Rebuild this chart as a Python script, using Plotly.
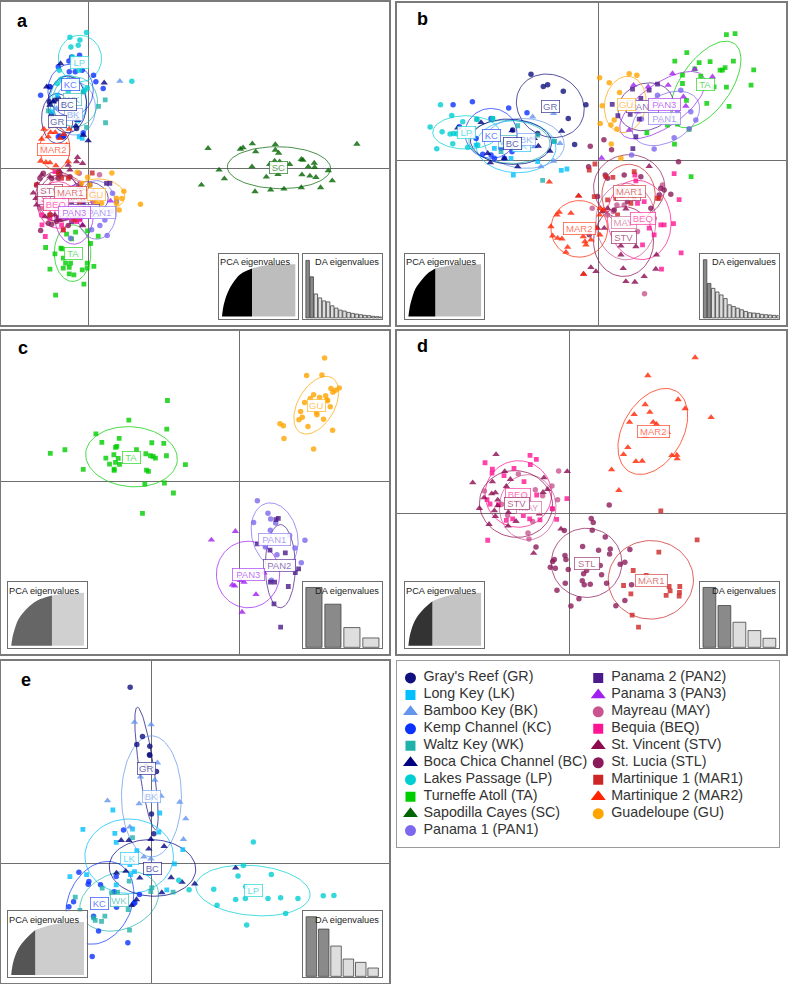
import numpy as np
import plotly.graph_objects as go

# Points at 3x scale, one list per population and panel.
A_LP = [(210,106),(260,92),(240,114),(213,135),(235,130),(218,165),(238,205),(178,205),(172,245),(205,268),(396,238),(262,258),(255,265),(183,232)]
A_KC = [(207,177),(239,160),(215,165),(122,280),(148,255),(208,210),(226,210),(247,205),(281,220),(288,240),(310,260),(175,195),(180,403),(175,405),(192,402),(250,393)]
A_WK = [(316,294),(317,363),(296,314),(260,377),(145,327),(250,270)]
A_BK = [(360,238),(235,355),(220,330),(205,260),(170,320),(250,400)]
A_BC = [(182,185),(313,243),(140,255),(160,300),(150,310),(265,417),(228,372),(250,400),(233,355)]
A_GR = [(150,255),(175,290),(190,405),(165,295),(155,340),(230,380),(148,300)]
A_LK = [(247,410),(238,405),(205,300),(188,310),(172,280),(155,330),(233,356),(250,270)]
A_MAR2 = [(132,382),(152,392),(166,392),(208,382),(125,412),(190,398),(145,405),(130,435),(122,478),(138,482),(150,483),(168,492),(205,480),(200,430),(180,410)]
A_STV = [(233,467),(230,480),(100,574),(112,548),(108,590),(110,610),(135,645),(165,640),(150,525),(125,520),(180,510),(205,490),(210,505),(248,485),(248,672),(180,655),(165,600)]
A_STL = [(122,687),(110,550),(120,530),(145,665),(155,668),(170,660),(205,672),(177,510),(180,520),(155,530),(130,515),(175,530),(210,525),(240,555),(175,650),(150,640)]
A_MAR1 = [(277,514),(175,515),(185,530),(240,600),(225,655),(250,590),(205,530),(255,570),(150,640),(135,620),(190,685),(110,550)]
A_MAY = [(299,519),(238,515),(280,600),(185,650),(215,655),(120,620),(150,600),(175,615),(135,580)]
A_BEQ = [(126,670),(136,705),(220,655),(185,670),(190,685),(230,660),(150,650),(125,640),(175,650),(240,655),(120,600),(165,510)]
A_PAN3 = [(248,670),(332,598),(190,590),(290,590),(245,590),(200,650),(212,620),(280,570),(240,545)]
A_PAN2 = [(330,545),(320,545),(270,550),(250,600),(215,600),(240,650),(215,660)]
A_PAN1 = [(338,575),(350,600),(335,630),(315,655),(322,702),(300,672),(275,685),(212,710),(250,610),(260,580)]
A_GU = [(336,514),(372,569),(366,591),(350,590),(350,606),(422,608),(358,625),(305,605),(263,527),(245,545),(232,512),(290,605),(270,550)]
A_TA = [(137,738),(183,740),(186,742),(165,757),(200,698),(227,692),(263,688),(272,726),(215,712),(190,770),(150,803),(197,785),(212,785),(208,798),(208,817),(222,820),(247,805),(262,785),(262,800),(282,795),(252,848),(167,881),(295,704),(190,800)]
A_SC = [(625,440),(722,442),(730,438),(758,426),(768,450),(827,428),(827,445),(837,454),(757,495),(658,505),(674,531),(605,550),(810,488),(825,478),(840,480),(870,488),(835,518),(800,526),(766,570),(813,565),(853,562),(905,558),(963,558),(998,537),(986,507),(949,527),(931,523),(907,519),(926,495),(945,497),(944,484),(905,473),(910,475),(1072,427)]

B_GR = [(410,217),(447,254),(460,249),(507,268),(575,309),(522,350),(541,428),(430,395),(355,385)]
B_KC = [(176,309),(234,300),(343,319),(398,333),(195,375),(290,350),(265,458),(290,460),(300,470),(330,470),(353,450),(320,440),(245,410)]
B_LP = [(138,309),(172,341),(107,376),(143,390),(167,397),(177,395),(187,396),(127,441),(175,426),(220,437),(205,360),(248,353),(295,350),(250,430)]
B_WK = [(247,353),(295,350),(370,372),(445,536),(320,450),(480,418),(430,400),(360,440)]
B_BK = [(415,345),(478,335),(497,425),(440,495),(478,478),(378,425),(410,410),(420,435)]
B_LK = [(501,506),(518,502),(357,520),(430,480),(245,430),(300,440),(280,410),(350,470),(480,420)]
B_BC = [(260,362),(190,378),(353,387),(502,388),(467,448),(432,433),(370,495),(288,483),(330,470),(280,455),(420,410)]
B_GU = [(705,216),(728,220),(616,228),(645,243),(676,272),(624,312),(660,355),(650,370),(668,382),(618,365),(680,470),(651,427)]
B_PAN2 = [(715,262),(790,247),(765,265),(654,308),(671,342),(708,338),(735,352),(725,405),(716,441),(790,310),(740,290)]
B_PAN3 = [(718,250),(762,255),(822,250),(835,215),(902,202),(955,225),(868,285),(875,313),(705,385),(800,360),(622,469),(730,330)]
B_PAN1 = [(790,280),(860,265),(840,408),(905,355),(885,381),(780,442),(712,460),(742,352),(850,330),(890,330)]
B_TA = [(997,98),(1023,95),(878,152),(842,178),(915,182),(948,179),(1018,178),(1079,204),(993,197),(985,205),(978,205),(1071,250),(997,256),(902,201),(920,223),(865,220),(865,245),(960,255),(877,296),(938,305),(1005,314),(820,370),(885,383),(758,393),(841,427),(891,525),(850,367)]
B_MAR1 = [(602,487),(585,505),(656,527),(635,525),(720,510),(665,590),(720,590),(790,590),(795,590),(670,640),(710,605),(600,585),(640,595)]
B_STL = [(629,414),(588,434),(652,444),(583,495),(853,480),(633,520),(640,530),(690,520),(740,525),(800,560),(830,578),(795,580),(810,565),(610,585),(660,625),(770,620),(585,700),(700,600)]
B_MAY = [(594,620),(751,877),(657,630),(690,610),(640,640),(730,690),(780,650),(805,550),(668,610)]
B_BEQ = [(840,516),(855,594),(838,666),(861,754),(802,803),(722,520),(725,538),(750,600),(730,605),(765,680),(745,730),(780,700),(800,670),(810,670)]
B_STV = [(765,494),(553,583),(568,818),(590,798),(605,810),(695,840),(722,842),(750,825),(785,803),(687,801),(680,733),(725,735),(787,760),(680,760),(695,622),(640,620),(625,630),(610,680),(630,680)]
B_MAR2 = [(465,541),(553,583),(530,635),(488,640),(495,632),(470,675),(475,703),(490,710),(503,712),(520,737),(515,752),(567,705),(572,720),(590,715),(575,730),(617,700),(605,680),(618,620),(628,625),(616,640),(568,818)]

C_TA = [(503,214),(387,273),(151,373),(195,362),(288,314),(306,340),(358,328),(347,355),(351,352),(501,300),(456,341),(492,343),(410,362),(342,377),(318,387),(355,388),(438,374),(452,380),(460,382),(467,387),(500,380),(557,407),(250,421),(329,405),(347,400),(359,406),(343,420),(343,424),(440,423),(446,427),(435,465),(494,462),(521,492),(428,553)]
C_GU = [(975,86),(921,139),(967,137),(1019,176),(1008,183),(994,178),(1000,189),(942,197),(960,205),(978,200),(932,208),(982,212),(984,215),(915,220),(992,233),(903,247),(951,250),(952,257),(908,264),(898,272),(972,270),(841,284),(851,290),(925,292),(999,303),(853,328),(942,360)]
C_PAN1 = [(773,515),(805,553),(813,570),(762,581),(828,582),(812,604),(870,620),(916,634),(797,654),(886,657),(832,678),(905,702),(815,754)]
C_PAN2 = [(836,568),(829,572),(773,645),(811,664),(857,672),(897,720),(887,731),(812,760),(825,760),(866,773),(823,825),(843,895)]
C_PAN3 = [(707,607),(635,633),(793,732),(722,755),(733,760),(698,768),(705,771),(769,797),(727,850)]

D_MAR2 = [(903,85),(761,139),(852,211),(753,226),(873,238),(720,256),(767,249),(951,265),(706,279),(777,279),(787,285),(820,310),(754,322),(701,355),(688,376),(848,378),(833,379),(849,389),(725,397),(744,396),(652,422),(674,484)]
D_BEQ = [(407,379),(426,391),(272,401),(408,407),(294,420),(293,432),(359,418),(389,458),(427,498),(518,509),(278,512),(287,525),(312,527),(474,539),(487,571),(355,570),(336,574),(406,570),(437,573),(387,560),(280,634),(329,440)]
D_MAY = [(493,426),(372,435),(473,471),(270,486),(423,482),(490,512),(322,526),(401,612),(404,630),(415,578),(390,500),(475,540),(340,560),(445,500)]
D_STV = [(305,376),(235,461),(331,427),(294,458),(348,451),(449,446),(336,472),(292,494),(303,491),(269,506),(310,513),(255,538),(300,545),(342,550),(303,562),(284,586),(341,591),(365,577),(435,555),(460,481),(446,490),(500,600),(418,673),(519,427),(310,530)]
D_STL = [(645,528),(591,569),(597,581),(510,605),(594,604),(633,624),(425,654),(565,653),(613,664),(648,660),(646,675),(512,680),(475,698),(480,692),(515,692),(468,715),(483,718),(522,722),(577,725),(618,710),(568,735),(622,738),(564,756),(570,768),(588,766),(637,763),(513,763),(488,784),(554,810),(530,832),(692,700),(707,662),(678,706),(712,768),(692,815),(665,831)]
D_MAR1 = [(800,546),(909,633),(794,670),(717,725),(756,740),(688,770),(825,773),(857,773),(828,786),(856,791),(816,800),(855,802),(710,795),(714,859),(733,895)]

E_GR = [(391,92),(428,240),(411,264),(450,269),(449,295),(470,345),(455,473),(462,532),(450,296),(440,330)]
E_BK = [(404,197),(454,204),(473,319),(422,361),(465,371),(323,433),(418,442),(484,419),(540,437),(558,487),(551,549),(390,512),(432,602),(453,608)]
E_LK = [(339,461),(249,519),(345,531),(398,518),(480,470),(477,527),(349,558),(411,583),(549,580),(524,623),(210,661),(260,655),(404,646),(392,655),(349,686),(501,701),(448,652),(390,625)]
E_KC = [(371,521),(237,648),(265,684),(267,676),(302,686),(349,661),(343,707),(419,715),(221,737),(207,752),(350,753),(402,742),(281,780),(296,825),(384,860),(277,901),(204,775),(252,782),(167,878),(405,740)]
E_WK = [(398,544),(307,696),(388,675),(456,694),(453,706),(520,708),(353,708),(226,723),(240,763),(385,760),(315,780),(281,785),(286,793),(305,796),(389,822),(335,710)]
E_BC = [(364,552),(387,552),(453,549),(493,570),(447,578),(378,645),(420,665),(514,664),(547,678),(585,683),(486,709),(708,635),(395,748),(410,730),(350,650)]
E_LP = [(761,557),(731,628),(715,659),(815,655),(738,692),(642,699),(708,730),(737,727),(805,727),(843,725),(895,727),(971,719),(1003,718),(652,747),(858,772),(741,807),(568,701),(537,672)]

# Eigenvalue insets: cumulative variance and discriminant eigenvalues
PCA_A_X = [0,1.4,3.6,10.5,19.5,28.6,41,60,100]
PCA_A_Y = [0,15,29,54,73,84,92,98,100]
PCA_B_X = [0,1.5,4,10,20,28,37,60,100]
PCA_B_Y = [0,15,30,54,73,84,92,98,100]
PCA_C_X = [0,1.5,4,10,20,30,40,56,75,100]
PCA_C_Y = [0,14,28,50,68,80,88,95,98,100]
PCA_D_X = [0,1.5,4,10,20,33,60,100]
PCA_D_Y = [0,16,30,50,68,84,96,100]
PCA_E_X = [0,1.5,4,10,20,33,60,100]
PCA_E_Y = [0,16,30,50,68,85,96,100]
DA_A = [175,125,73,61,52,49,37,30,24,21,17,14,12,10,8,7,5,4,3]
DA_B = [177,105,90,79,70,59,40,35,30,25,20,16,15,14,11,10,9,8,7]
DA_C = [179,129,59,28]
DA_D = [179,125,75,50,27]
DA_E = [179,142,91,52,42,25]

LEGEND_NAMES = ["Gray's Reef (GR)", "Long Key (LK)", "Bamboo Key (BK)", "Kemp Channel (KC)", "Waltz Key (WK)",
                "Boca Chica Channel (BC)", "Lakes Passage (LP)", "Turneffe Atoll (TA)", "Sapodilla Cayes (SC)",
                "Panama 1 (PAN1)", "Panama 2 (PAN2)", "Panama 3 (PAN3)", "Mayreau (MAY)", "Bequia (BEQ)",
                "St. Vincent (STV)", "St. Lucia (STL)", "Martinique 1 (MAR1)", "Martinique 2 (MAR2)", "Guadeloupe (GU)"]
CODES = ["GR", "LK", "BK", "KC", "WK", "BC", "LP", "TA", "SC", "PAN1", "PAN2", "PAN3", "MAY", "BEQ", "STV", "STL", "MAR1", "MAR2", "GU"]

COLORS = dict(GR="#10107e", LK="#00bfff", BK="#6495ed", KC="#0a32ff", WK="#20b2aa", BC="#000080", LP="#00ced1",
              TA="#00cd00", SC="#006400", PAN1="#7b68ee", PAN2="#4b1a8b", PAN3="#a020f0", MAY="#c8558f", BEQ="#ff1493",
              STV="#8b0a50", STL="#8b1a5a", MAR1="#cd2626", MAR2="#ff2400", GU="#ffa500")
SYMBOLS = dict(GR="circle", LK="square", BK="triangle-up", KC="circle", WK="square", BC="triangle-up", LP="circle",
               TA="square", SC="triangle-up", PAN1="circle", PAN2="square", PAN3="triangle-up", MAY="circle",
               BEQ="square", STV="triangle-up", STL="circle", MAR1="square", MAR2="triangle-up", GU="circle")
MARKER_SIZE = {"circle": 5.5, "square": 4.8, "triangle-up": 6.5}

# (cx, cy, major, minor, tilt in degrees) in the same read units as the points
PANELS = [
    dict(letter="a", box=(1, 0, 389, 324), crop=(0, 0), cross=(265, 501), letter_at=(23, 19),
         points=dict(GR=A_GR, LK=A_LK, BK=A_BK, KC=A_KC, WK=A_WK, BC=A_BC, LP=A_LP, TA=A_TA, SC=A_SC, PAN1=A_PAN1,
                     PAN2=A_PAN2, PAN3=A_PAN3, MAY=A_MAY, BEQ=A_BEQ, STV=A_STV, STL=A_STL, MAR1=A_MAR1, MAR2=A_MAR2, GU=A_GU),
         ellipses=dict(GR=(172,350,75,47,90), LK=(205,300,80,55,90), BK=(225,320,80,62,90), KC=(212,265,78,68,90),
                       WK=(225,300,75,68,90), BC=(202,308,85,58,90), LP=(240,170,70,65,90), TA=(218,755,85,55,90),
                       SC=(838,498,155,63,-1), PAN1=(290,625,88,60,90), PAN2=(260,590,65,50,0), PAN3=(222,640,88,58,90),
                       MAY=(195,590,65,60,90), BEQ=(175,610,70,62,90), STV=(172,585,75,65,90), STL=(180,590,70,65,90),
                       MAR1=(195,585,65,60,90), MAR2=(165,440,65,45,90), GU=(300,580,75,48,-5)),
         labels=dict(LP=(240,181), STL=(150,590), MAY=(235,585), PAN2=(250,628), STV=(150,568), KC=(213,247), WK=(218,293), BK=(222,337),
                     BC=(202,309), GR=(172,360), MAR2=(162,443), PAN1=(300,633), MAR1=(212,574), GU=(290,580),
                     BEQ=(168,610), PAN3=(225,632), TA=(220,755), SC=(838,498)),
         pca=(PCA_A_X, PCA_A_Y, 6), pca_colors=("#000000", "#bdbdbd"), da=DA_A, da_pos=(303.3, 252.3, 382.3, 317.3),
         pca_pos=(219.3, 252.3, 298.3, 317.3)),
    dict(letter="b", box=(398, 1, 787, 324), crop=(395, 0), cross=(612, 477), letter_at=(423, 17),
         points=dict(GR=B_GR, LK=B_LK, BK=B_BK, KC=B_KC, WK=B_WK, BC=B_BC, LP=B_LP, TA=B_TA, PAN1=B_PAN1, PAN2=B_PAN2,
                     PAN3=B_PAN3, MAY=B_MAY, BEQ=B_BEQ, STV=B_STV, STL=B_STL, MAR1=B_MAR1, MAR2=B_MAR2, GU=B_GU),
         ellipses=dict(GR=(468,312,105,92,-30), LK=(365,435,120,78,-3), BK=(390,425,120,75,-3), KC=(290,395,78,75,0),
                       WK=(345,420,122,65,-3), BC=(350,420,122,68,-3), LP=(215,392,100,50,0), TA=(935,248,150,75,55),
                       PAN1=(815,350,110,70,30), PAN2=(755,315,85,70,20), PAN3=(805,310,150,65,35), MAY=(695,660,115,90,90),
                       BEQ=(735,655,120,95,100), STV=(688,720,105,90,90), STL=(705,557,107,98,0), MAR1=(703,580,92,80,90),
                       MAR2=(555,682,85,85,0), GU=(693,308,85,62,80)),
         labels=dict(WK=(340,420), LK=(380,430), GR=(468,315), LP=(215,393), KC=(292,400), BK=(397,414), BC=(354,424),
                     PAN2=(745,315), GU=(697,309), PAN3=(810,309), PAN1=(812,350), TA=(933,248), STL=(700,580), MAR1=(705,571), MAY=(690,663),
                     BEQ=(745,650), STV=(690,709), MAR2=(555,682)),
         pca=(PCA_B_X, PCA_B_Y, 6), pca_colors=("#000000", "#bdbdbd"), da=DA_B, da_pos=(701.3, 252.3, 779.7, 317.3),
         pca_pos=(406, 252.3, 484.3, 317.3)),
    dict(letter="c", box=(1, 330, 389, 653), crop=(0, 328), cross=(718, 456), letter_at=(23, 347),
         points=dict(TA=C_TA, PAN1=C_PAN1, PAN2=C_PAN2, PAN3=C_PAN3, GU=C_GU),
         ellipses=dict(TA=(395,383,138,90,-5), PAN1=(825,620,100,68,105), PAN2=(842,712,125,45,90),
                       PAN3=(745,737,100,95,90), GU=(950,228,95,55,60)),
         labels=dict(TA=(395,384), PAN1=(825,631), PAN2=(840,711), PAN3=(745,736), GU=(950,229)),
         pca=(PCA_C_X, PCA_C_Y, 7), pca_colors=("#666666", "#d0d0d0"), da=DA_C, da_pos=(303.7, 581.3, 382, 647.3),
         pca_pos=(8.3, 581.3, 86.7, 647.3)),
    dict(letter="d", box=(398, 330, 787, 653), crop=(395, 328), cross=(526, 553), letter_at=(423, 345),
         points=dict(MAY=D_MAY, BEQ=D_BEQ, STV=D_STV, STL=D_STL, MAR1=D_MAR1, MAR2=D_MAR2),
         ellipses=dict(MAY=(400,535,98,85,90), BEQ=(372,495,100,100,0), STV=(365,525,110,100,-10), STL=(577,702,106,104,0),
                       MAR1=(770,753,128,118,0), MAR2=(776,307,140,90,60)),
         labels=dict(MAY=(405,537), BEQ=(372,496), STV=(368,524), STL=(577,703), MAR1=(773,755), MAR2=(777,306)),
         pca=(PCA_D_X, PCA_D_Y, 5), pca_colors=("#333333", "#c4c4c4"), da=DA_D, da_pos=(701.3, 581.3, 779.7, 647.3),
         pca_pos=(406, 581.3, 484.3, 647.3)),
    dict(letter="e", box=(1, 660, 389, 983), crop=(0, 656), cross=(454, 622), letter_at=(26, 679),
         points=dict(GR=E_GR, LK=E_LK, BK=E_BK, KC=E_KC, WK=E_WK, BC=E_BC, LP=E_LP),
         ellipses=dict(GR=(440,336,186,22,98.5), LK=(388,600,133,112,0), BK=(455,420,182,90,90), KC=(300,740,130,95,65),
                       WK=(358,735,122,85,20), BC=(458,635,130,85,-3), LP=(760,703,172,75,-5)),
         labels=dict(GR=(441,336), BK=(456,420), LK=(388,606), BC=(457,636), KC=(298,742), WK=(358,733), LP=(760,703)),
         pca=(PCA_E_X, PCA_E_Y, 5), pca_colors=("#555555", "#cdcdcd"), da=DA_E, da_pos=(303.7, 911.3, 382, 977),
         pca_pos=(8.3, 911.3, 86.7, 977)),
]

W, H = 788, 984
FONT = "Liberation Sans"
fig = go.Figure()
layout_axes = {}
annotations = []
shapes = []


def rgba(code, alpha):
    c = COLORS[code]
    return f"rgba({int(c[1:3],16)},{int(c[3:5],16)},{int(c[5:7],16)},{alpha})"


def set_axes(n, box, xrange, yrange, line_color="#7a7a7a", line_width=1.5, zero=False):
    left, top, right, bottom = box
    base = dict(showgrid=False, showticklabels=False, ticks="", showline=True, mirror=True,
                linecolor=line_color, linewidth=line_width, zeroline=zero, zerolinecolor="#6e6e6e", zerolinewidth=1.2)
    layout_axes[f"xaxis{n}"] = dict(base, domain=[left / W, right / W], range=xrange, anchor=f"y{n}")
    layout_axes[f"yaxis{n}"] = dict(base, domain=[1 - bottom / H, 1 - top / H], range=yrange, anchor=f"x{n}")


def inset_background(n, xrange, yrange):
    # veil over the main panel, so marks under the inset stay faintly visible
    shapes.append(dict(type="rect", xref=f"x{n}", yref=f"y{n}", x0=xrange[0], x1=xrange[1], y0=yrange[0], y1=yrange[1],
                       layer="between", line=dict(width=0), fillcolor="rgba(255,255,255,0.7)"))


def inset_title(n, x, text):
    annotations.append(dict(x=x, y=0.87, xref=f"x{n} domain", yref=f"y{n} domain", text=text, showarrow=False,
                            xanchor="center", yanchor="middle", font=dict(family=FONT, size=9.2, color="#222222")))


for i, panel in enumerate(PANELS):
    n = i + 1
    cx, cy = panel["cross"]
    left, top, right, bottom = panel["box"]
    crop_x, crop_y = panel["crop"]
    set_axes(n, panel["box"],
             [(left - crop_x) * 3 - cx, (right - crop_x) * 3 - cx],
             [cy - (bottom - crop_y) * 3, cy - (top - crop_y) * 3], zero=True)

    # ellipses first so the points sit over them
    theta = np.linspace(0, 2 * np.pi, 90)
    for code in CODES:
        if code not in panel["ellipses"]:
            continue
        ex, ey, major, minor, tilt = panel["ellipses"][code]
        a = np.radians(tilt)
        fig.add_trace(go.Scatter(
            x=ex - cx + major * np.cos(theta) * np.cos(a) - minor * np.sin(theta) * np.sin(a),
            y=cy - ey + major * np.cos(theta) * np.sin(a) + minor * np.sin(theta) * np.cos(a),
            mode="lines", line=dict(color=rgba(code, 0.8), width=0.9), hoverinfo="skip",
            showlegend=False, xaxis=f"x{n}", yaxis=f"y{n}"))

    for code in CODES:
        if code not in panel["points"]:
            continue
        xy = np.array(panel["points"][code])
        fig.add_trace(go.Scatter(
            x=xy[:, 0] - cx, y=cy - xy[:, 1], mode="markers", name=code, showlegend=False,
            marker=dict(color=COLORS[code], symbol=SYMBOLS[code], size=MARKER_SIZE[SYMBOLS[code]], opacity=0.8),
            xaxis=f"x{n}", yaxis=f"y{n}"))

    for code, (lx, ly) in panel["labels"].items():
        annotations.append(dict(
            x=lx - cx, y=cy - ly, xref=f"x{n}", yref=f"y{n}", text=code, showarrow=False,
            font=dict(family=FONT, size=9.5, color=rgba(code, 0.65)), bgcolor="rgba(255,255,255,0.88)",
            bordercolor=rgba(code, 0.75), borderwidth=0.8, borderpad=0, width=7 * len(code) + 3, height=11))

    annotations.append(dict(
        x=panel["letter_at"][0] / W, y=1 - panel["letter_at"][1] / H, xref="paper", yref="paper", text=f"<b>{panel['letter']}</b>",
        showarrow=False, xanchor="center", yanchor="middle", font=dict(family=FONT, size=18, color="#000000")))

    # PCA inset
    np_id = 6 + i
    set_axes(np_id, panel["pca_pos"], [-4, 103.6], [-4, 120], line_color="#6e6e6e", line_width=1.2)
    inset_background(np_id, [-4, 103.6], [-4, 120])
    pca_x, pca_y, k = panel["pca"]
    dark, light = panel["pca_colors"]
    fig.add_trace(go.Scatter(x=pca_x[k:], y=pca_y[k:], mode="lines", fill="tozeroy", line=dict(width=0, shape="spline"),
                             fillcolor=light, hoverinfo="skip", showlegend=False, xaxis=f"x{np_id}", yaxis=f"y{np_id}"))
    fig.add_trace(go.Scatter(x=pca_x[:k + 1], y=pca_y[:k + 1], mode="lines", fill="tozeroy", line=dict(width=0, shape="spline"),
                             fillcolor=dark, hoverinfo="skip", showlegend=False, xaxis=f"x{np_id}", yaxis=f"y{np_id}"))
    inset_title(np_id, 0.46, "PCA eigenvalues")

    # DA inset
    nd = 11 + i
    values = panel["da"]
    pad = {4: (-0.56, 3.56), 5: (-0.6, 4.62), 6: (-0.65, 5.68), 19: (-1.15, 18.1)}[len(values)]
    set_axes(nd, panel["da_pos"], list(pad), [-2, 195], line_color="#6e6e6e", line_width=1.2)
    inset_background(nd, list(pad), [-2, 195])
    fig.add_trace(go.Bar(x=list(range(len(values))), y=values,
                         marker=dict(color=["#8a8a8a" if j < 2 else "#dedede" for j in range(len(values))],
                                     line=dict(color="#444444", width=0.8)),
                         width=0.85, hoverinfo="skip", showlegend=False, xaxis=f"x{nd}", yaxis=f"y{nd}"))
    inset_title(nd, 0.553, "DA eigenvalues")

# Legend box, x in pixels from its left edge, y in rows
set_axes(16, (398, 660, 780, 847), [0, 382], [(187 - 17.3) / 17, -17.3 / 17], line_color="#9a9a9a", line_width=1)
for j, (name, code) in enumerate(zip(LEGEND_NAMES, CODES)):
    col_x = 13 if j < 10 else 201
    row = j if j < 10 else j - 10
    symbol = SYMBOLS[code]
    fig.add_trace(go.Scatter(x=[col_x], y=[row], mode="markers", showlegend=False, hoverinfo="skip",
                             marker=dict(color=COLORS[code], symbol=symbol, size={"circle": 11, "square": 10, "triangle-up": 13}[symbol]),
                             xaxis="x16", yaxis="y16"))
    fig.add_trace(go.Scatter(x=[col_x + 13], y=[row], mode="text", text=[name], textposition="middle right",
                             textfont=dict(family=FONT, size=14.3, color="#333333"), showlegend=False, hoverinfo="skip",
                             xaxis="x16", yaxis="y16"))

fig.update_layout(
    width=W, height=H, margin=dict(l=0, r=0, t=0, b=0), paper_bgcolor="white", plot_bgcolor="white",
    showlegend=False, annotations=annotations, shapes=shapes, barmode="overlay", **layout_axes)

# the browser's default body margin would push the 788x984 figure off the window
fig.write_html("out.html", config={"displayModeBar": False}, post_script="document.body.style.margin='0';")
